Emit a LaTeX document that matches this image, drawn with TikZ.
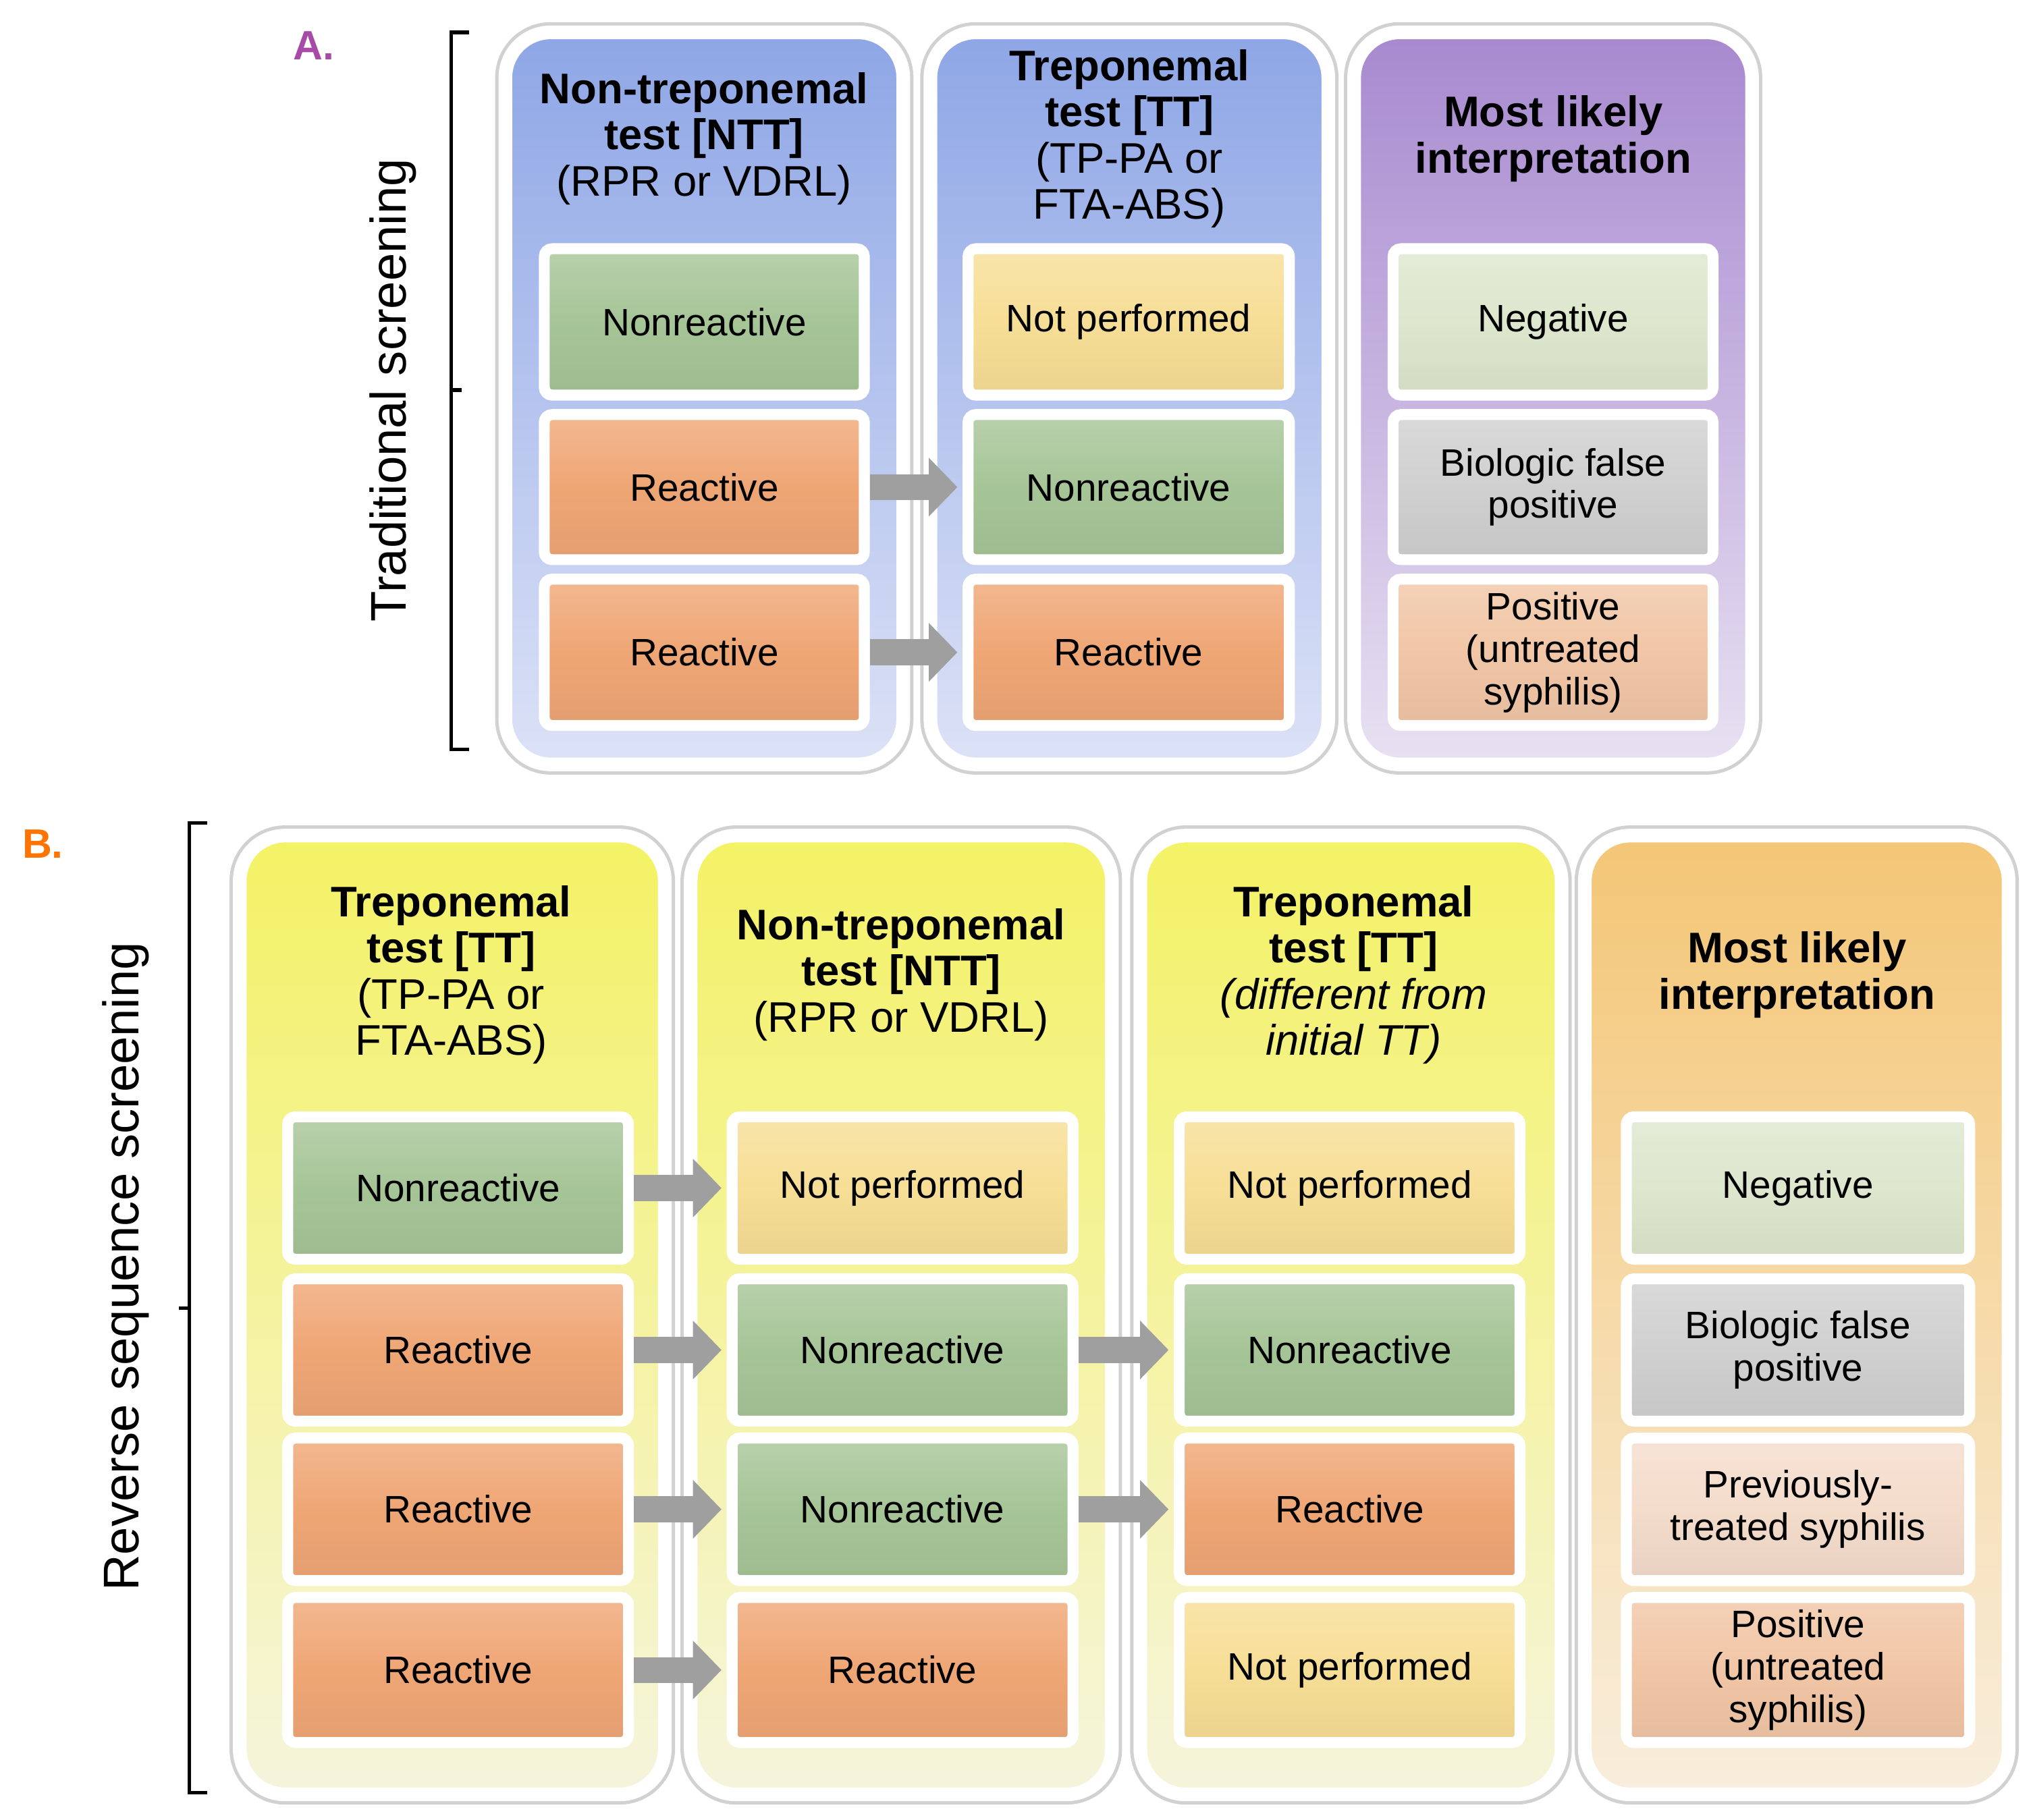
\documentclass[tikz,border=0pt]{standalone}
\usepackage{fontspec}
\setmainfont{Liberation Sans}
\usetikzlibrary{shadows,arrows.meta}
\definecolor{cgreen}{HTML}{A6C597}
\definecolor{corange}{HTML}{EFA675}
\definecolor{cyellow}{HTML}{F7DE96}
\definecolor{clgreen}{HTML}{DCE7CD}
\definecolor{cgray}{HTML}{D0D0D0}
\definecolor{csalmon}{HTML}{F1C6A6}
\definecolor{cpeach}{HTML}{F4DCCB}
\definecolor{bluetop}{HTML}{8EA6E6}
\definecolor{bluebot}{HTML}{DCE2F6}
\definecolor{purtop}{HTML}{A789CF}
\definecolor{purbot}{HTML}{E8E1F2}
\definecolor{yeltop}{HTML}{F4F264}
\definecolor{yelbot}{HTML}{F5F4DC}
\definecolor{ortop}{HTML}{F4C676}
\definecolor{orbot}{HTML}{F8EEDC}
\tikzset{
 colout/.style={draw=black!18,line width=4.5pt,rounded corners=0.35cm,drop shadow={opacity=0.2,shadow xshift=0.04cm,shadow yshift=-0.04cm}},
 col/.style={draw=white,line width=3pt,rounded corners=0.35cm},
 bx/.style={draw=white,line width=2.4pt,rounded corners=0.06cm,align=center,inner sep=0pt,
   font=\fontsize{8.4}{9.3}\selectfont,drop shadow={opacity=0.35,shadow xshift=0.025cm,shadow yshift=-0.03cm},
   top color=#1!80!white,bottom color=#1!95!black,middle color=#1},
 hd/.style={align=center,font=\fontsize{9.4}{10.1}\selectfont},
 barrow/.style={draw=gray!75,line width=0.2cm,-{Triangle[length=0.22cm,width=0.44cm]},shorten >=0.04cm},
}
\newcommand\mybox[7]{\node[bx=#1,minimum width={(#5-#3)*0.01cm},minimum height={(#6-#4)*0.01cm}] (#2) at ({(#3+#5)/2*0.01},{-(#4+#6)/2*0.01}) {#7};}
\newcommand\mycol[6]{\path[colout] ({#1*0.01},{-#2*0.01}) rectangle ({#3*0.01},{-#4*0.01});
 \path[col,top color=#5,bottom color=#6] ({#1*0.01},{-#2*0.01}) rectangle ({#3*0.01},{-#4*0.01});}
\begin{document}
\begin{tikzpicture}
\useasboundingbox (0,0) rectangle (15.68,-14.04);
% ---- A ----
\node[font=\fontsize{9}{10}\selectfont\bfseries,text=violet!70] (la) at (2.42,-0.35) {A.};
\draw[line width=0.8pt] (3.62,-0.25) -- (3.48,-0.25) -- (3.48,-5.78) -- (3.62,-5.78);
\draw[line width=0.8pt] (3.48,-3.01) -- (3.56,-3.01);
\node[rotate=90,font=\fontsize{11}{12}\selectfont] (ta) at (3.03,-3.01) {Traditional screening};
\mycol{390}{25}{697}{590}{bluetop}{bluebot}
\mycol{718}{25}{1025}{590}{bluetop}{bluebot}
\mycol{1045}{25}{1352}{590}{purtop}{purbot}
\node[hd] (ha1) at (5.43,-1.07) {\textbf{Non-treponemal}\\\textbf{test [NTT]}\\(RPR or VDRL)};
\node[hd] (ha2) at (8.71,-1.07) {\textbf{Treponemal}\\\textbf{test [TT]}\\(TP-PA or\\FTA-ABS)};
\node[hd] (ha3) at (11.98,-1.07) {\textbf{Most likely}\\\textbf{interpretation}};
\mybox{cgreen}{a11}{420}{192}{667}{305}{Nonreactive}
\mybox{corange}{a12}{420}{320}{667}{432}{Reactive}
\mybox{corange}{a13}{420}{447}{667}{560}{Reactive}
\mybox{cyellow}{a21}{747}{192}{995}{305}{Not performed}
\mybox{cgreen}{a22}{747}{320}{995}{432}{Nonreactive}
\mybox{corange}{a23}{747}{447}{995}{560}{Reactive}
\mybox{clgreen}{a31}{1075}{192}{1322}{305}{Negative}
\mybox{cgray}{a32}{1075}{320}{1322}{432}{Biologic false\\positive}
\mybox{csalmon}{a33}{1075}{447}{1322}{560}{Positive\\(untreated\\syphilis)}
\draw[barrow] (a12) -- (a22);
\draw[barrow] (a13) -- (a23);
% ---- B ----
\node[font=\fontsize{9}{10}\selectfont\bfseries,text=orange!90!red] (lb) at (0.33,-6.51) {B.};
\draw[line width=0.8pt] (1.60,-6.35) -- (1.46,-6.35) -- (1.46,-13.83) -- (1.60,-13.83);
\draw[line width=0.8pt] (1.46,-10.09) -- (1.38,-10.09);
\node[rotate=90,font=\fontsize{11}{12}\selectfont] (tb) at (0.97,-9.77) {Reverse sequence screening};
\mycol{185}{645}{513}{1385}{yeltop}{yelbot}
\mycol{533}{645}{858}{1385}{yeltop}{yelbot}
\mycol{880}{645}{1205}{1385}{yeltop}{yelbot}
\mycol{1223}{645}{1550}{1385}{ortop}{orbot}
\node[hd] (hb1) at (3.48,-7.52) {\textbf{Treponemal}\\\textbf{test [TT]}\\(TP-PA or\\FTA-ABS)};
\node[hd] (hb2) at (6.95,-7.52) {\textbf{Non-treponemal}\\\textbf{test [NTT]}\\(RPR or VDRL)};
\node[hd] (hb3) at (10.44,-7.52) {\textbf{Treponemal}\\\textbf{test [TT]}\\\textit{(different from}\\\textit{initial TT)}};
\node[hd] (hb4) at (13.86,-7.52) {\textbf{Most likely}\\\textbf{interpretation}};
\mybox{cgreen}{b11}{222}{862}{485}{972}{Nonreactive}
\mybox{corange}{b12}{222}{987}{485}{1097}{Reactive}
\mybox{corange}{b13}{222}{1110}{485}{1220}{Reactive}
\mybox{corange}{b14}{222}{1233}{485}{1345}{Reactive}
\mybox{cyellow}{b21}{565}{862}{828}{972}{Not performed}
\mybox{cgreen}{b22}{565}{987}{828}{1097}{Nonreactive}
\mybox{cgreen}{b23}{565}{1110}{828}{1220}{Nonreactive}
\mybox{corange}{b24}{565}{1233}{828}{1345}{Reactive}
\mybox{cyellow}{b31}{910}{862}{1173}{972}{Not performed}
\mybox{cgreen}{b32}{910}{987}{1173}{1097}{Nonreactive}
\mybox{corange}{b33}{910}{1110}{1173}{1220}{Reactive}
\mybox{cyellow}{b34}{910}{1233}{1173}{1345}{Not performed}
\mybox{clgreen}{b41}{1255}{862}{1520}{972}{Negative}
\mybox{cgray}{b42}{1255}{987}{1520}{1097}{Biologic false\\positive}
\mybox{cpeach}{b43}{1255}{1110}{1520}{1220}{Previously-\\treated syphilis}
\mybox{csalmon}{b44}{1255}{1233}{1520}{1345}{Positive\\(untreated\\syphilis)}
\draw[barrow] (b11) -- (b21);
\draw[barrow] (b12) -- (b22);
\draw[barrow] (b13) -- (b23);
\draw[barrow] (b14) -- (b24);
\draw[barrow] (b22) -- (b32);
\draw[barrow] (b23) -- (b33);
\end{tikzpicture}
\end{document}
